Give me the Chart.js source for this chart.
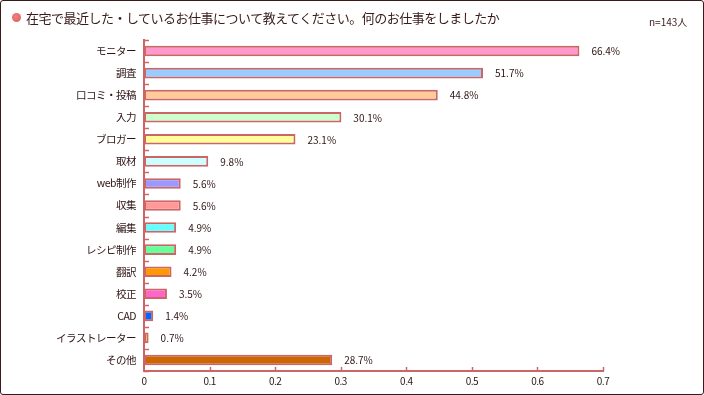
<!DOCTYPE html>
<html>
<head>
<meta charset="utf-8">
<script src="https://cdn.jsdelivr.net/npm/chart.js@4/dist/chart.umd.min.js"></script>
<style>
  html, body { margin: 0; padding: 0; background: #fff; }
  #wrap { position: relative; width: 704px; height: 395px; overflow: hidden; }
  #frame { position: absolute; left: 0; top: 0; width: 704px; height: 395px; box-sizing: border-box;
           border: 1px solid #3c1a1a; border-radius: 3px; pointer-events: none; }
  #c { position: absolute; left: 0; top: 0; }
  #title { position: absolute; left: 26px; top: 8px; font-family: "Noto Sans CJK JP", sans-serif;
           font-size: 13px; color: #3a1a1a; white-space: nowrap; letter-spacing: -0.5px; }
  #dot { position: absolute; left: 12px; top: 13px; width: 9px; height: 9px; border-radius: 50%;
         background: radial-gradient(circle at 40% 40%, #ee8080, #dd5a5a); }
  #n { position: absolute; left: 649px; top: 14px; font-family: "Noto Sans CJK JP", sans-serif;
       font-size: 10px; color: #3a1a1a; white-space: nowrap; }
</style>
</head>
<body>
<div id="wrap">
  <canvas id="c" width="704" height="395"></canvas>
  <div id="dot"></div>
  <div id="title">在宅で最近した・しているお仕事について教えてください。何のお仕事をしましたか</div>
  <div id="n">n=143人</div>
  <div id="frame"></div>
</div>
<script>
const categories = ["モニター","調査","口コミ・投稿","入力","ブロガー","取材","web制作","収集","編集","レシピ制作","翻訳","校正","CAD","イラストレーター","その他"];
const values = [0.664, 0.517, 0.448, 0.301, 0.231, 0.098, 0.056, 0.056, 0.049, 0.049, 0.042, 0.035, 0.014, 0.007, 0.287];
const barColors = ["#ff99cc","#99ccff","#ffcc99","#ccffcc","#ffff99","#ccffff","#9999ff","#ff9999","#66ffff","#66ff99","#ff9900","#ff66cc","#0066ff","#cccc00","#cc6600"];
const xTicks = [0, 0.1, 0.2, 0.3, 0.4, 0.5, 0.6, 0.7];

const AXIS = "#cc6666";
const TEXT = "#2e1414";
const FONT = '"Noto Sans CJK JP", sans-serif';

const innerTicks = {
  id: "innerTicks",
  beforeDraw(chart) {
    if ("letterSpacing" in chart.ctx) chart.ctx.letterSpacing = "-0.5px";
  },
  afterDraw(chart) {
    const ctx = chart.ctx, y = chart.scales.y, x = chart.scales.x;
    ctx.save();
    ctx.strokeStyle = AXIS;
    ctx.lineWidth = 1.5;
    const half = (y.getPixelForValue(1) - y.getPixelForValue(0)) / 2;
    for (let i = 0; i <= categories.length; i++) {
      const py = Math.round(y.getPixelForValue(i) - half) + 0.5;
      ctx.beginPath(); ctx.moveTo(x.left, py); ctx.lineTo(x.left + 5, py); ctx.stroke();
    }
    xTicks.forEach(v => {
      if (v === 0) return;
      const px = Math.round(x.getPixelForValue(v)) + 0.5;
      ctx.beginPath(); ctx.moveTo(px, y.bottom); ctx.lineTo(px, y.bottom - 4); ctx.stroke();
    });
    ctx.restore();
  },
  afterDatasetsDraw(chart) {
    const ctx = chart.ctx;
    if ("letterSpacing" in ctx) ctx.letterSpacing = "0px";
    const meta = chart.getDatasetMeta(0);
    ctx.save();
    ctx.font = "10px " + FONT;
    ctx.fillStyle = TEXT;
    ctx.textAlign = "left";
    ctx.textBaseline = "middle";
    meta.data.forEach((el, i) => {
      ctx.fillText((values[i] * 100).toFixed(1) + "%", el.x + 12, el.y + 0.5);
    });
    ctx.restore();
  }
};

new Chart(document.getElementById("c"), {
  type: "bar",
  data: {
    labels: categories,
    datasets: [{
      data: values,
      backgroundColor: barColors,
      borderColor: AXIS,
      borderWidth: 2,
      borderSkipped: false,
      barPercentage: 0.48,
      categoryPercentage: 1.0
    }]
  },
  options: {
    indexAxis: "y",
    responsive: false,
    animation: false,
    devicePixelRatio: 1,
    layout: { padding: { top: 40, right: 101, left: 0, bottom: 0 } },
    plugins: { legend: { display: false }, tooltip: { enabled: false }, title: { display: false } },
    scales: {
      x: {
        min: 0, max: 0.7,
        afterFit: s => { s.height = 24; },
        afterBuildTicks: s => { s.ticks = xTicks.map(v => ({ value: v })); },
        grid: { display: false, drawTicks: false, tickLength: 0 },
        border: { display: true, color: AXIS, width: 2 },
        ticks: {
          padding: 4,
          color: TEXT,
          font: { family: FONT, size: 10 },
          callback: v => (v === 0 ? "0" : (+v).toFixed(1))
        }
      },
      y: {
        afterFit: s => { s.width = 144; },
        grid: { display: false, offset: true, drawTicks: false, tickLength: 0 },
        border: { display: true, color: AXIS, width: 2 },
        ticks: {
          padding: 8,
          color: TEXT,
          font: { family: FONT, size: 10.5 }
        }
      }
    }
  },
  plugins: [innerTicks]
});
</script>
</body>
</html>
